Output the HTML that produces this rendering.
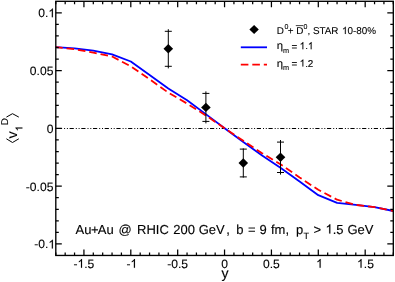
<!DOCTYPE html><html><head><meta charset="utf-8"><style>html,body{margin:0;padding:0;background:#fff;}svg{display:block;will-change:transform;font-family:"Liberation Sans",sans-serif;text-rendering:geometricPrecision;}text{text-rendering:geometricPrecision;stroke:#000;stroke-width:0.12px;}.lg text{stroke-width:0.1px;}text{stroke-linejoin:round;}</style></head><body>
<svg width="395" height="282" viewBox="0 0 395 282">
<rect width="395" height="282" fill="#fff"/>
<line x1="55.80" y1="128.50" x2="393.30" y2="128.50" stroke="#000" stroke-width="1" stroke-dasharray="4.2 2 1 1.8 1 1.7" stroke-dashoffset="-2.10"/>
<path d="M55.8,47.2 L74.6,48.4 L93.3,50.7 L112.1,54.4 L130.8,61.5 L149.6,74.9 L168.3,88.6 L187.1,100.3 L205.8,114.1 L224.6,128.3 L243.3,142.0 L262.1,155.4 L280.8,168.0 L299.6,181.6 L318.3,195.2 L337.1,202.8 L355.8,204.9 L374.6,207.2 L393.3,211.0" fill="none" stroke="#0000ff" stroke-width="1.8" stroke-linejoin="round"/>
<path d="M55.8,47.2 L74.6,49.2 L93.3,52.6 L112.1,56.5 L130.8,66.3 L149.6,79.2 L168.3,92.6 L187.1,103.6 L205.8,115.4 L224.6,128.3 L243.3,140.8 L262.1,153.2 L280.8,164.5 L299.6,177.5 L318.3,189.8 L337.1,199.7 L355.8,204.9 L374.6,207.2 L393.3,211.0" fill="none" stroke="#ff0000" stroke-width="1.8" stroke-dasharray="7.6 3.9" stroke-dashoffset="0.7" stroke-linejoin="round"/>
<rect x="55.80" y="1.30" width="337.50" height="254.15" fill="none" stroke="#000" stroke-width="1.35"/>
<path d="M55.80,255.45v-3M55.80,1.30v3M65.18,255.45v-3M65.18,1.30v3M74.55,255.45v-3M74.55,1.30v3M83.93,255.45v-6M83.93,1.30v6M93.30,255.45v-3M93.30,1.30v3M102.68,255.45v-3M102.68,1.30v3M112.05,255.45v-3M112.05,1.30v3M121.42,255.45v-3M121.42,1.30v3M130.80,255.45v-6M130.80,1.30v6M140.18,255.45v-3M140.18,1.30v3M149.55,255.45v-3M149.55,1.30v3M158.93,255.45v-3M158.93,1.30v3M168.30,255.45v-3M168.30,1.30v3M177.68,255.45v-6M177.68,1.30v6M187.05,255.45v-3M187.05,1.30v3M196.43,255.45v-3M196.43,1.30v3M205.80,255.45v-3M205.80,1.30v3M215.18,255.45v-3M215.18,1.30v3M224.55,255.45v-6M224.55,1.30v6M233.93,255.45v-3M233.93,1.30v3M243.30,255.45v-3M243.30,1.30v3M252.68,255.45v-3M252.68,1.30v3M262.05,255.45v-3M262.05,1.30v3M271.43,255.45v-6M271.43,1.30v6M280.80,255.45v-3M280.80,1.30v3M290.18,255.45v-3M290.18,1.30v3M299.55,255.45v-3M299.55,1.30v3M308.93,255.45v-3M308.93,1.30v3M318.30,255.45v-6M318.30,1.30v6M327.68,255.45v-3M327.68,1.30v3M337.05,255.45v-3M337.05,1.30v3M346.43,255.45v-3M346.43,1.30v3M355.80,255.45v-3M355.80,1.30v3M365.18,255.45v-6M365.18,1.30v6M374.55,255.45v-3M374.55,1.30v3M383.93,255.45v-3M383.93,1.30v3M393.30,255.45v-3M393.30,1.30v3M55.80,243.95h6M393.30,243.95h-6M55.80,232.39h3M393.30,232.39h-3M55.80,220.84h3M393.30,220.84h-3M55.80,209.29h3M393.30,209.29h-3M55.80,197.73h3M393.30,197.73h-3M55.80,186.18h6M393.30,186.18h-6M55.80,174.62h3M393.30,174.62h-3M55.80,163.06h3M393.30,163.06h-3M55.80,151.51h3M393.30,151.51h-3M55.80,139.96h3M393.30,139.96h-3M55.80,128.40h6M393.30,128.40h-6M55.80,116.84h3M393.30,116.84h-3M55.80,105.29h3M393.30,105.29h-3M55.80,93.74h3M393.30,93.74h-3M55.80,82.18h3M393.30,82.18h-3M55.80,70.62h6M393.30,70.62h-6M55.80,59.07h3M393.30,59.07h-3M55.80,47.52h3M393.30,47.52h-3M55.80,35.96h3M393.30,35.96h-3M55.80,24.41h3M393.30,24.41h-3M55.80,12.85h6M393.30,12.85h-6" stroke="#000" stroke-width="1.25" fill="none"/>
<text x="73.50" y="267.8" font-size="12.1">-</text><path transform="translate(77.53,267.8) scale(12.1,-12.1)" d="M0.3726,0L0.2847,0L0.2847,0.5601Q0.2529,0.5298 0.2014,0.4995Q0.1499,0.4692 0.1089,0.4541L0.1089,0.5391Q0.1826,0.5737 0.2378,0.623Q0.293,0.6724 0.3159,0.7188L0.3726,0.7188Z" fill="#000" stroke="#000" stroke-width="0.0099"/><text x="84.26" y="267.8" font-size="12.1" xml:space="preserve">.5</text>
<text x="126.42" y="267.8" font-size="12.1">-</text><path transform="translate(130.45,267.8) scale(12.1,-12.1)" d="M0.3726,0L0.2847,0L0.2847,0.5601Q0.2529,0.5298 0.2014,0.4995Q0.1499,0.4692 0.1089,0.4541L0.1089,0.5391Q0.1826,0.5737 0.2378,0.623Q0.293,0.6724 0.3159,0.7188L0.3726,0.7188Z" fill="#000" stroke="#000" stroke-width="0.0099"/>
<text x="167.25" y="267.8" font-size="12.1" xml:space="preserve">-0.5</text>
<text x="221.19" y="267.8" font-size="12.1" xml:space="preserve">0</text>
<text x="263.01" y="267.8" font-size="12.1" xml:space="preserve">0.5</text>
<path transform="translate(316.14,267.8) scale(12.1,-12.1)" d="M0.3726,0L0.2847,0L0.2847,0.5601Q0.2529,0.5298 0.2014,0.4995Q0.1499,0.4692 0.1089,0.4541L0.1089,0.5391Q0.1826,0.5737 0.2378,0.623Q0.293,0.6724 0.3159,0.7188L0.3726,0.7188Z" fill="#000" stroke="#000" stroke-width="0.0099"/>
<path transform="translate(357.06,267.8) scale(12.1,-12.1)" d="M0.3726,0L0.2847,0L0.2847,0.5601Q0.2529,0.5298 0.2014,0.4995Q0.1499,0.4692 0.1089,0.4541L0.1089,0.5391Q0.1826,0.5737 0.2378,0.623Q0.293,0.6724 0.3159,0.7188L0.3726,0.7188Z" fill="#000" stroke="#000" stroke-width="0.0099"/><text x="363.79" y="267.8" font-size="12.1" xml:space="preserve">.5</text>
<text x="38.28" y="17.2" font-size="12.1">0.</text><path transform="translate(48.37,17.2) scale(12.1,-12.1)" d="M0.3726,0L0.2847,0L0.2847,0.5601Q0.2529,0.5298 0.2014,0.4995Q0.1499,0.4692 0.1089,0.4541L0.1089,0.5391Q0.1826,0.5737 0.2378,0.623Q0.293,0.6724 0.3159,0.7188L0.3726,0.7188Z" fill="#000" stroke="#000" stroke-width="0.0099"/>
<text x="29.85" y="75.0" font-size="12.1" xml:space="preserve">0.05</text>
<text x="46.67" y="132.8" font-size="12.1" xml:space="preserve">0</text>
<text x="25.82" y="190.6" font-size="12.1" xml:space="preserve">-0.05</text>
<text x="34.25" y="248.4" font-size="12.1">-0.</text><path transform="translate(48.37,248.4) scale(12.1,-12.1)" d="M0.3726,0L0.2847,0L0.2847,0.5601Q0.2529,0.5298 0.2014,0.4995Q0.1499,0.4692 0.1089,0.4541L0.1089,0.5391Q0.1826,0.5737 0.2378,0.623Q0.293,0.6724 0.3159,0.7188L0.3726,0.7188Z" fill="#000" stroke="#000" stroke-width="0.0099"/>
<text x="225.0" y="277.7" font-size="14" text-anchor="middle">y</text>
<g transform="rotate(-90)">
<text x="-138.4" y="17.3" font-size="14.3">v</text>
<path transform="translate(-131.20,22.4) scale(9.6,-9.6)" d="M0.3726,0L0.2847,0L0.2847,0.5601Q0.2529,0.5298 0.2014,0.4995Q0.1499,0.4692 0.1089,0.4541L0.1089,0.5391Q0.1826,0.5737 0.2378,0.623Q0.293,0.6724 0.3159,0.7188L0.3726,0.7188Z" fill="#000" stroke="#000" stroke-width="0.0125"/>
<text x="-125.3" y="7.9" font-size="9.9">D</text>
</g>
<path d="M6.4,138.8 L12.5,142.5 L18.8,138.8 M6.4,117.1 L12.5,113.7 L18.8,117.1" fill="none" stroke="#000" stroke-width="1"/>
<path d="M168.3,29.2V68.4M164.8,31.3h7M164.8,66.3h7" stroke="#000" stroke-width="1" fill="none"/>
<path d="M163.5,48.8 L168.3,44.1 L173.1,48.8 L168.3,53.5Z" fill="#000"/>
<path d="M205.9,91.4V123.4M202.4,93.4h7M202.4,121.4h7" stroke="#000" stroke-width="1" fill="none"/>
<path d="M201.1,107.4 L205.9,102.7 L210.7,107.4 L205.9,112.1Z" fill="#000"/>
<path d="M243.3,148.4V177.6M239.8,149.1h7M239.8,176.9h7" stroke="#000" stroke-width="1" fill="none"/>
<path d="M238.5,163.0 L243.3,158.3 L248.1,163.0 L243.3,167.7Z" fill="#000"/>
<path d="M280.5,140.0V174.6M277.0,142.1h7M277.0,172.5h7" stroke="#000" stroke-width="1" fill="none"/>
<path d="M275.7,157.3 L280.5,152.6 L285.3,157.3 L280.5,162.0Z" fill="#000"/>
<path d="M249.4,29.5 L254.1,25.0 L258.8,29.5 L254.1,34.0Z" fill="#000"/>
<line x1="240.8" y1="47.3" x2="267" y2="47.3" stroke="#0000ff" stroke-width="1.8"/>
<line x1="240.8" y1="64.7" x2="267" y2="64.7" stroke="#ff0000" stroke-width="1.8" stroke-dasharray="7.6 3.9"/>
<g style="stroke-width:0.1px" class="lg">
<text x="276.8" y="33.9" font-size="9.9">D</text>
<text x="284.4" y="29.1" font-size="7">0</text>
<text x="287.7" y="33.9" font-size="9.9">+</text>
<text x="296.3" y="33.9" font-size="9.9">D</text>
<line x1="295.8" y1="25.6" x2="303.4" y2="25.6" stroke="#000" stroke-width="0.75"/>
<text x="303.6" y="29.1" font-size="7">0</text>
<text x="307.40" y="33.9" font-size="9.9">, STAR </text><path transform="translate(342.05,33.9) scale(9.9,-9.9)" d="M0.3726,0L0.2847,0L0.2847,0.5601Q0.2529,0.5298 0.2014,0.4995Q0.1499,0.4692 0.1089,0.4541L0.1089,0.5391Q0.1826,0.5737 0.2378,0.623Q0.293,0.6724 0.3159,0.7188L0.3726,0.7188Z" fill="#000" stroke="#000" stroke-width="0.0121"/><text x="347.56" y="33.9" font-size="9.9" xml:space="preserve">0-80%</text>
<text x="276.8" y="49.2" font-size="10.5" transform="translate(276.8,0) scale(1.08,1) translate(-276.8,0)">η</text>
<text x="282.9" y="52.6" font-size="7.3">m</text>
<text x="291.60" y="49.800000000000004" font-size="9.9" xml:space="preserve">=</text><path transform="translate(299.63,49.2) scale(9.9,-9.9)" d="M0.3726,0L0.2847,0L0.2847,0.5601Q0.2529,0.5298 0.2014,0.4995Q0.1499,0.4692 0.1089,0.4541L0.1089,0.5391Q0.1826,0.5737 0.2378,0.623Q0.293,0.6724 0.3159,0.7188L0.3726,0.7188Z" fill="#000" stroke="#000" stroke-width="0.0121"/><text x="305.14" y="49.2" font-size="9.9">.</text><path transform="translate(307.89,49.2) scale(9.9,-9.9)" d="M0.3726,0L0.2847,0L0.2847,0.5601Q0.2529,0.5298 0.2014,0.4995Q0.1499,0.4692 0.1089,0.4541L0.1089,0.5391Q0.1826,0.5737 0.2378,0.623Q0.293,0.6724 0.3159,0.7188L0.3726,0.7188Z" fill="#000" stroke="#000" stroke-width="0.0121"/>
<text x="276.8" y="66.5" font-size="10.5" transform="translate(276.8,0) scale(1.08,1) translate(-276.8,0)">η</text>
<text x="282.9" y="69.9" font-size="7.3">m</text>
<text x="291.60" y="67.1" font-size="9.9" xml:space="preserve">=</text><path transform="translate(299.63,66.5) scale(9.9,-9.9)" d="M0.3726,0L0.2847,0L0.2847,0.5601Q0.2529,0.5298 0.2014,0.4995Q0.1499,0.4692 0.1089,0.4541L0.1089,0.5391Q0.1826,0.5737 0.2378,0.623Q0.293,0.6724 0.3159,0.7188L0.3726,0.7188Z" fill="#000" stroke="#000" stroke-width="0.0121"/><text x="305.14" y="66.5" font-size="9.9" xml:space="preserve">.2</text>
</g>
<text x="75.6" y="233.6" font-size="13.0">Au</text>
<text x="91.0" y="233.6" font-size="13.0">+</text>
<text x="97.8" y="233.6" font-size="13.0">Au</text>
<text x="118.6" y="233.6" font-size="13.0">@</text>
<text x="137.1" y="233.6" font-size="13.0">RHIC</text>
<text x="173.3" y="233.6" font-size="13.0">200</text>
<text x="198.7" y="233.6" font-size="13.0">GeV</text>
<text x="226.2" y="233.6" font-size="13.0">,</text>
<text x="236.3" y="233.6" font-size="13.0">b</text>
<text x="248.0" y="233.6" font-size="13.0">=</text>
<text x="259.5" y="233.6" font-size="13.0">9</text>
<text x="271.0" y="233.6" font-size="13.0">fm,</text>
<text x="296.0" y="233.6" font-size="13.0">p</text>
<text x="313.5" y="233.6" font-size="13.0">&gt;</text>
<text x="347.5" y="233.6" font-size="13.0">GeV</text>
<text x="303.4" y="238.9" font-size="9.1">T</text>
<path transform="translate(325.50,233.6) scale(13.0,-13.0)" d="M0.3726,0L0.2847,0L0.2847,0.5601Q0.2529,0.5298 0.2014,0.4995Q0.1499,0.4692 0.1089,0.4541L0.1089,0.5391Q0.1826,0.5737 0.2378,0.623Q0.293,0.6724 0.3159,0.7188L0.3726,0.7188Z" fill="#000" stroke="#000" stroke-width="0.0092"/><text x="332.73" y="233.6" font-size="13.0" xml:space="preserve">.5</text>
</svg></body></html>
